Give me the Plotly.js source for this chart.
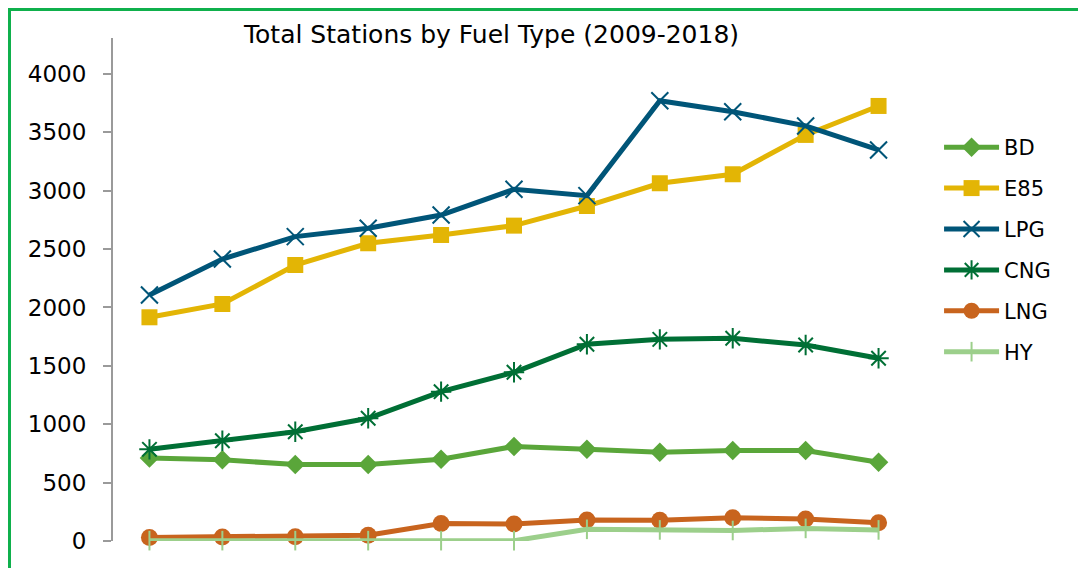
<!DOCTYPE html>
<html>
<head>
<meta charset="utf-8">
<script src="https://cdn.plot.ly/plotly-3.0.1.min.js"></script>
<style>
  html, body { margin:0; padding:0; background:#fff; overflow:hidden; width:1078px; height:568px; }
  #wrap { position:relative; width:1078px; height:568px; overflow:hidden; }
  #chart { width:1078px; height:568px; }
  #frame { position:absolute; left:8px; top:8px; width:1070px; height:560px; border-left:3px solid #0fb04c; border-top:3px solid #0fb04c; pointer-events:none; box-sizing:border-box; }
</style>
</head>
<body>
<div id="wrap">
  <div id="chart"></div>
  <div id="frame"></div>
</div>
<script>
const years = ['2008','2009','2010','2011','2012','2013','2014','2015','2016','2017','2018'];
const BD  = [710, 695, 655, 655, 700, 810, 785, 760, 775, 775, 675];
const E85 = [1916, 2030, 2364, 2550, 2621, 2701, 2869, 3064, 3141, 3478, 3726];
const LPG = [2107, 2415, 2607, 2678, 2792, 3012, 2958, 3771, 3677, 3555, 3349];
const CNG = [785, 859, 936, 1051, 1279, 1445, 1685, 1727, 1736, 1679, 1565];
const LNG = [30, 35, 37, 50, 150, 145, 180, 178, 200, 188, 157];
const HY  = [3, 3, 3, 3, 3, 3, 100, 95, 90, 108, 95];

function tr(name, y, color, symbol, size, mline) {
  return {
    type:'scatter', mode:'lines+markers', name:name, x:years, y:y,
    legendgroup:name,
    line:{color:color, width:5},
    marker:{color:color, symbol:symbol, size:size, line:{color:color, width:mline}},
    cliponaxis:false
  };
}
const data = [
  tr('BD', BD, '#5aa63a', 'diamond', 15, 0),
  tr('E85', E85, '#e3b505', 'square', 16, 0),
  tr('LPG', LPG, '#005578', 'x-thin-open', 17, 2),
  tr('CNG', CNG, '#006f35', 'asterisk-open', 17, 2),
  tr('LNG', LNG, '#c8641e', 'circle', 17, 0),
  tr('HY', HY, '#9ccf8b', 'line-ns-open', 14, 2)
];
const FONT = '"DejaVu Sans", Verdana, sans-serif';
const layout = {
  width:1078, height:568,
  margin:{l:113, r:163, t:38, b:27},
  paper_bgcolor:'#fff', plot_bgcolor:'#fff',
  font:{family:FONT, color:'#000'},
  title:{text:'Total Stations by Fuel Type (2009-2018)', x:0.456, xanchor:'center', y:0.94, yanchor:'middle',
         font:{size:25, color:'#000', family:FONT}},
  showlegend:true,
  legend:{x:1.03, xanchor:'left', y:0.823, yanchor:'top', font:{size:21, family:FONT}, tracegroupgap:10.6, itemwidth:55, bgcolor:'rgba(0,0,0,0)'},
  xaxis:{type:'category', range:[-0.5, 10.5], showticklabels:false, showgrid:false, zeroline:false, showline:false, ticks:''},
  yaxis:{range:[0, 4308], tickvals:[0,500,1000,1500,2000,2500,3000,3500,4000], showgrid:false, zeroline:false,
         showline:true, linecolor:'#9a9a9a', linewidth:2, ticks:'outside', ticklen:8, tickcolor:'#9a9a9a', tickwidth:2,
         ticklabelstandoff:12, tickfont:{size:23, color:'#000', family:FONT}}
};
Plotly.newPlot('chart', data, layout, {displayModeBar:false, staticPlot:true});
</script>
</body>
</html>
